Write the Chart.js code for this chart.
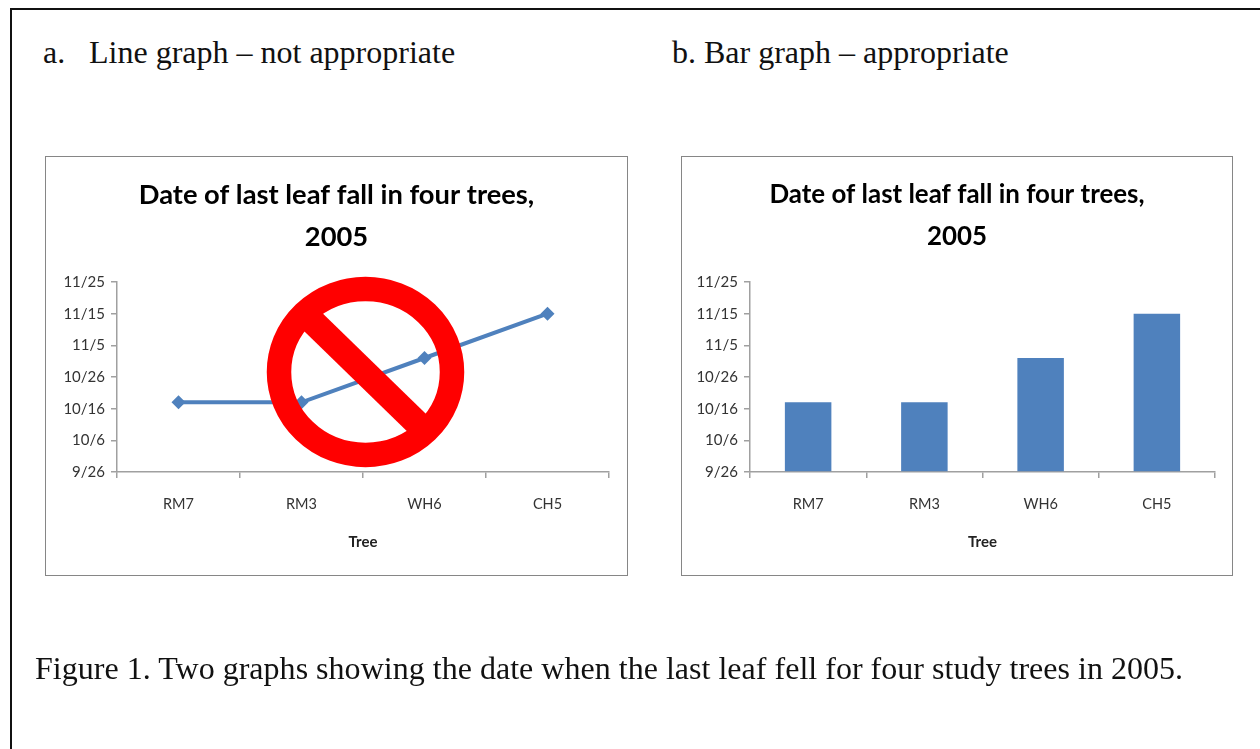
<!DOCTYPE html>
<html><head><meta charset="utf-8">
<script src="https://cdn.jsdelivr.net/npm/chart.js@4"></script>
<style>
html,body{margin:0;padding:0;background:#fff;width:1260px;height:749px;overflow:hidden}
#frame{position:absolute;left:10px;top:8px;width:1300px;height:800px;border:2px solid #111;box-sizing:border-box}
.t{position:absolute;font-family:"Liberation Serif",serif;font-size:32px;line-height:36px;color:#111;white-space:pre}
.box{position:absolute;border:1px solid #868686;box-sizing:border-box;background:#fff}
.box canvas{position:absolute;left:0;top:0}
svg{position:absolute;left:0;top:0}
</style></head><body>
<div id="frame"></div>
<div class="t" style="left:43px;top:34px">a.</div>
<div class="t" style="left:89px;top:34px">Line graph – not appropriate</div>
<div class="t" style="left:672px;top:34px">b. Bar graph – appropriate</div>
<div class="box" style="left:45px;top:156px;width:583px;height:420px"><canvas id="c1"></canvas></div>
<div class="box" style="left:681px;top:156px;width:552px;height:420px"><canvas id="c2"></canvas></div>
<svg width="1260" height="749">
  <ellipse cx="365.5" cy="372" rx="86.5" ry="83" fill="none" stroke="#ff0000" stroke-width="24.5"/>
  <line x1="309" y1="318" x2="420" y2="426" stroke="#ff0000" stroke-width="25.5"/>
</svg>
<div class="t" style="left:35px;top:650px;letter-spacing:0.02px">Figure 1. Two graphs showing the date when the last leaf fell for four study trees in 2005.</div>
<script>
const categories = ['RM7','RM3','WH6','CH5'];
const lastLeafDates = ['10/18','10/18','11/1','11/15'];
const tickLabels = ['9/26','10/6','10/16','10/26','11/5','11/15','11/25'];
const titleLines = ['Date of last leaf fall in four trees,','2005'];
const xTitle = 'Tree';
const monthStartDay = {9:0,10:30,11:61};
const toDay = s => { const [m,d] = s.split('/').map(Number); return monthStartDay[m]+d; };
const values = lastLeafDates.map(toDay);
const tickDays = tickLabels.map(toDay);
const axisCol = '#a0a0a0', textCol = '#333', blue = '#4F81BD';
const FONT = 'Lato, Carlito, sans-serif';

function opts(leftW, rightPad, titleSize){
  return {
    responsive:false, animation:false,
    layout:{padding:0},
    plugins:{
      legend:{display:false}, tooltip:{enabled:false},
      title:{display:true,text:titleLines,color:'#000',
        font:{family:FONT,size:titleSize,weight:'bold',lineHeight:42/titleSize},
        padding:{top:17,bottom:24}}
    },
    scales:{
      x:{type:'category',
        offset:true,
        grid:{display:true,offset:true,drawOnChartArea:false,drawTicks:true,tickLength:6,color:axisCol,lineWidth:1.5},
        border:{display:true,color:axisCol,width:1.5},
        ticks:{color:textCol,font:{family:FONT,size:14.5},padding:18,maxRotation:0},
        title:{display:true,text:xTitle,color:'#222',font:{family:FONT,size:15,weight:'bold'},padding:{top:12,bottom:24}},
        afterFit(s){s.height=103;s.paddingRight=rightPad;s.paddingLeft=0;}
      },
      y:{type:'linear',min:tickDays[0],max:tickDays[tickDays.length-1],
        afterBuildTicks(s){s.ticks=tickDays.map(v=>({value:v}));},
        grid:{display:true,drawOnChartArea:false,drawTicks:true,tickLength:6,color:axisCol,lineWidth:1.5},
        border:{display:true,color:axisCol,width:1.5},
        ticks:{color:textCol,font:{family:FONT,size:15},padding:6,
          callback(v){const i=tickDays.indexOf(v);return i>=0?tickLabels[i]:'';}},
        afterFit(s){s.width=leftW;}
      }
    }
  };
}
function size(id,w,h){const c=document.getElementById(id);c.width=w;c.height=h;c.style.width=w+'px';c.style.height=h+'px';return c;}
new Chart(size('c1',581,418),{type:'line',
  data:{labels:categories,datasets:[{data:values,borderColor:blue,backgroundColor:blue,borderWidth:4,
    pointStyle:'rectRot',pointRadius:7,pointBorderWidth:0,tension:0}]},
  options:opts(71,18,27.3)});
new Chart(size('c2',550,418),{type:'bar',
  data:{labels:categories,datasets:[{data:values,backgroundColor:blue,borderWidth:0,barPercentage:0.4,categoryPercentage:1,base:tickDays[0]}]},
  options:opts(68,17,25.9)});
</script>
</body></html>
